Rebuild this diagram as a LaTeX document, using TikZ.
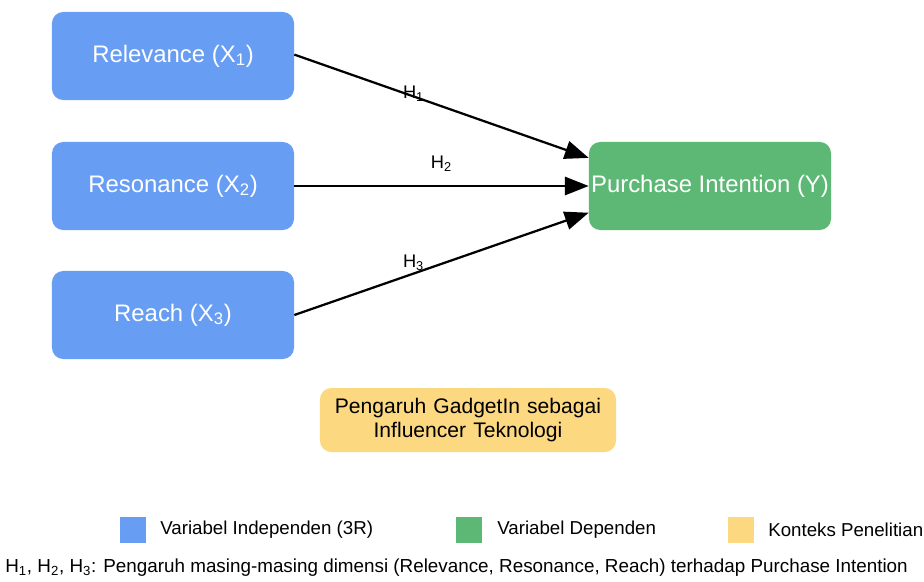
\documentclass[tikz,border=0pt]{standalone}
\usepackage{fontspec}
\setmainfont{Liberation Sans}
\usetikzlibrary{arrows.meta}

\definecolor{indepblue}{HTML}{689DF4}
\definecolor{depgreen}{HTML}{5CB874}
\definecolor{ctxyellow}{HTML}{FCD881}

\tikzset{
  varbox/.style={rounded corners=8pt, minimum width=6.05cm, minimum height=2.2cm,
    text=white, font=\fontsize{17}{20}\selectfont, inner sep=0pt},
  hyparrow/.style={line width=1.6pt, -{Triangle[length=17pt,width=13pt]}},
  hlabel/.style={font=\fontsize{13}{15}\selectfont},
  legendbox/.style={minimum size=0.65cm, inner sep=0pt},
  legendtext/.style={anchor=west, font=\fontsize{13.3}{15}\selectfont, inner sep=0pt}
}

\begin{document}
\begin{tikzpicture}[x=0.025cm, y=-0.025cm]

\useasboundingbox (0,0) rectangle (924,581);

\coordinate (relevance-pos) at (173,56);
\coordinate (resonance-pos) at (173,186);
\coordinate (reach-pos) at (173,315);
\coordinate (purchase-pos) at (710,186);
\coordinate (context-pos) at (468,420);

\node [varbox, fill=indepblue] (relevance) at (relevance-pos) {Relevance (X\textsubscript{1})};
\node [varbox, fill=indepblue] (resonance) at (resonance-pos) {Resonance (X\textsubscript{2})};
\node [varbox, fill=indepblue] (reach) at (reach-pos) {Reach (X\textsubscript{3})};
\node [varbox, fill=depgreen] (purchase) at (purchase-pos) {Purchase Intention (Y)};
\node [rounded corners=8pt, fill=ctxyellow, minimum width=7.4cm, minimum height=1.6cm,
  text width=7cm, align=center, font=\fontsize{15}{17}\selectfont] (context) at (context-pos)
  {Pengaruh GadgetIn sebagai\\Influencer Teknologi};

\draw [hyparrow] ([yshift=1pt]relevance.east) -- ([yshift=20pt]purchase.west)
  node [hlabel, pos=0.405, yshift=2pt] (h1) {H\textsubscript{1}};
\draw [hyparrow] (resonance.east) -- (purchase.west)
  node [hlabel, pos=0.5, above=6pt] (h2) {H\textsubscript{2}};
\draw [hyparrow] (reach.east) -- ([yshift=-19pt]purchase.west)
  node [hlabel, pos=0.405, yshift=8pt] (h3) {H\textsubscript{3}};

% legend
\node [legendbox, fill=indepblue] (leg-indep) at (133,530) {};
\node [legendtext] (leg-indep-text) at (160,530) {Variabel Independen (3R)};
\node [legendbox, fill=depgreen] (leg-dep) at (469,530) {};
\node [legendtext] (leg-dep-text) at (497,530) {Variabel Dependen};
\node [legendbox, fill=ctxyellow] (leg-ctx) at (741,530) {};
\node [legendtext] (leg-ctx-text) at (768,530) {Konteks Penelitian};

\node [legendtext, font=\fontsize{13.4}{15}\selectfont] (note) at (5,568) {H\textsubscript{1}, H\textsubscript{2}, H\textsubscript{3}: Pengaruh masing-masing dimensi (Relevance, Resonance, Reach) terhadap Purchase Intention};

\end{tikzpicture}
\end{document}
